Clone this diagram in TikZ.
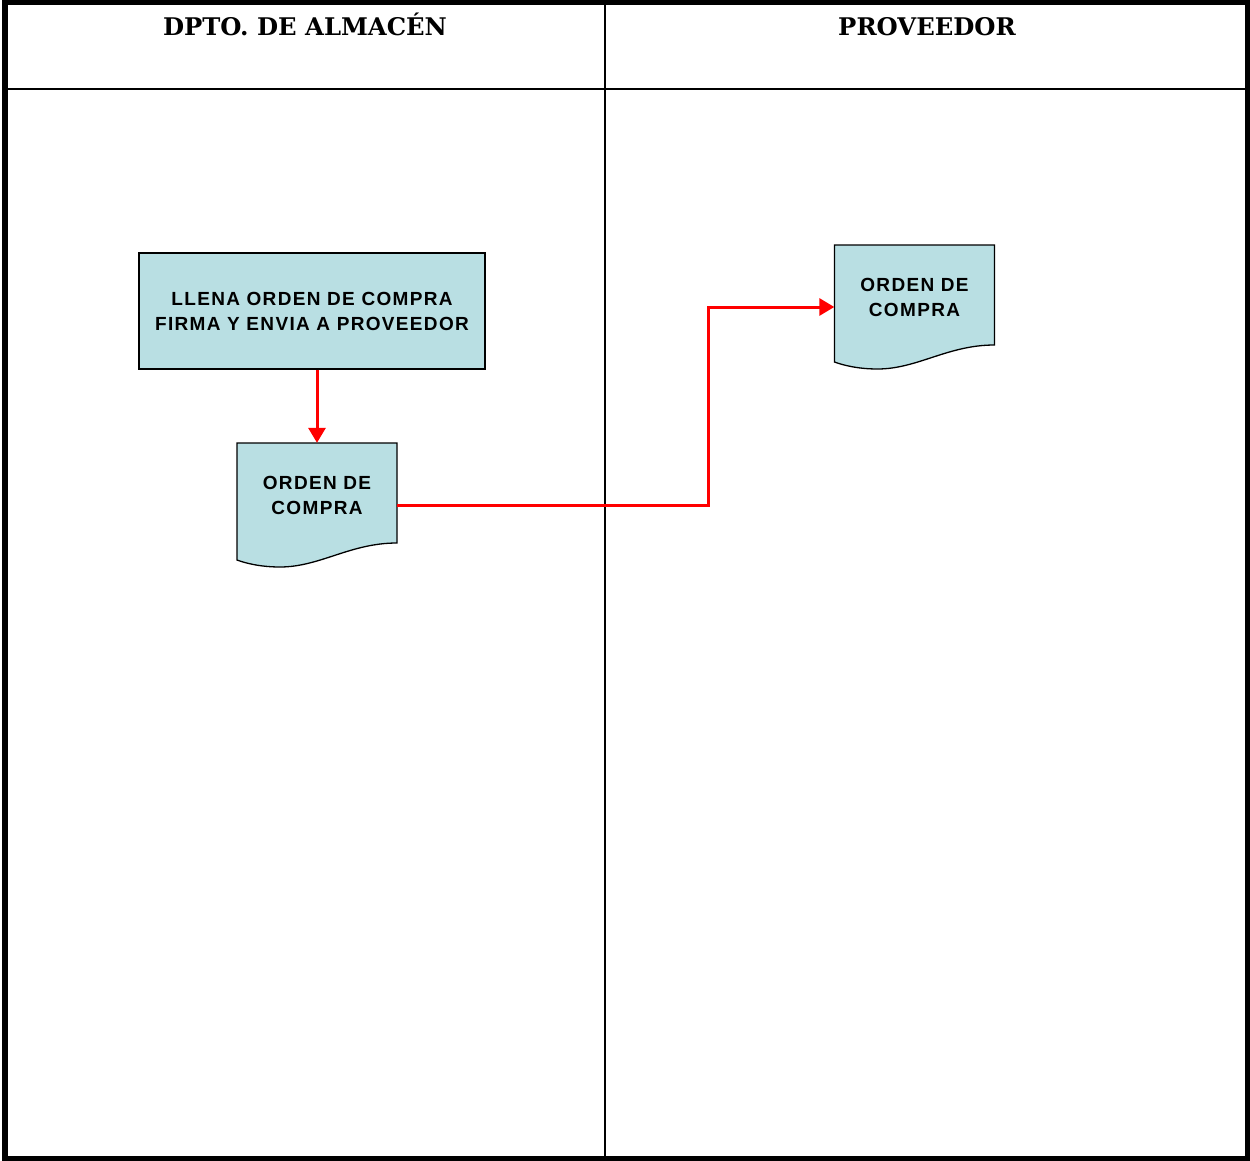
\documentclass[tikz,border=0pt]{standalone}
\usepackage{fontspec}
\setmainfont{Liberation Sans}
\newfontfamily\headfont{DejaVu Serif}
\newfontfamily\bodyfont[LetterSpace=7]{Liberation Sans}
\usetikzlibrary{arrows.meta}
\definecolor{docfill}{RGB}{185,223,227}
\definecolor{flowred}{RGB}{255,0,0}
\tikzset{
  lanetitle/.style={font=\headfont\bfseries\fontsize{24.3}{28}\selectfont, anchor=base, inner sep=0},
  bodytext/.style={font=\bodyfont\bfseries\fontsize{19}{25}\selectfont, align=center},
  procbox/.style={bodytext, draw=black, line width=1.3, fill=docfill, minimum width=346, minimum height=116, inner sep=0},
  docbase/.style={draw=none, minimum width=160, minimum height=124, inner sep=0},
  docshape/.style={draw=black, line width=1.3, fill=docfill},
  doctext/.style={bodytext, inner sep=0},
  flow/.style={draw=flowred, line width=3, -{Triangle[length=15,width=17]}},
  frame/.style={draw=black, line width=5},
  laneline/.style={draw=black, line width=2}
}
\begin{document}
\begin{tikzpicture}[x=1pt,y=-1pt]
\useasboundingbox (0,0) rectangle (1250,1161);
% lanes
\draw[laneline] (4,89) -- (1247,89);
\draw[laneline] (605,2) -- (605,1158);
\draw[frame] (4.5,2.5) rectangle (1247.5,1158.5);
\draw[draw=black, line width=6] (5,0) -- (5,1161);
\node[lanetitle] (t1) at (305,36) {DPTO. DE ALMACÉN};
\node[lanetitle] (t2) at (927,36) {PROVEEDOR};
% process box
\node[procbox] (llena) at (312,311) {LLENA ORDEN DE COMPRA\\FIRMA Y ENVIA A PROVEEDOR};
% document 1
\node[docbase] (doc1) at (317,505) {};
\path[docshape, shift={(doc1.center)}] (-80,-62) -- (80,-62) -- (80,38)
  .. controls (33,38) and (3,62) .. (-37,62)
  .. controls (-57,62) and (-72,58) .. (-80,55) -- cycle;
\node[doctext] (doc1t) at (317,495) {ORDEN DE\\COMPRA};
% document 2
\node[docbase] (doc2) at (914.5,307) {};
\path[docshape, shift={(doc2.center)}] (-80,-62) -- (80,-62) -- (80,38)
  .. controls (33,38) and (3,62) .. (-37,62)
  .. controls (-57,62) and (-72,58) .. (-80,55) -- cycle;
\node[doctext] (doc2t) at (914.5,297) {ORDEN DE\\COMPRA};
% connectors
\coordinate (bend) at (708,505);
\draw[flow] (llena.south -| doc1.north) -- (doc1.north);
\draw[flow] (doc1.east) -- (bend) |- (doc2.west);
\end{tikzpicture}
\end{document}
